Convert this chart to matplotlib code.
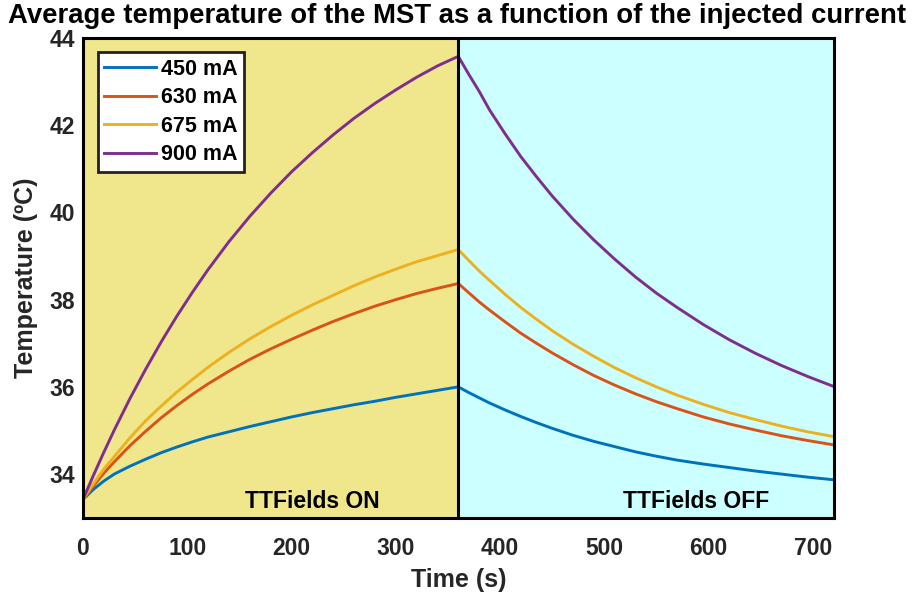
import matplotlib
matplotlib.use('Agg')
import matplotlib.pyplot as plt

plt.rcParams['font.family'] = ['Liberation Sans', 'DejaVu Sans']
plt.rcParams['font.weight'] = 'bold'

# tiempos (s): calentamiento (ON) y enfriamiento (OFF)
time = [0, 10, 20, 30, 45, 60, 75, 90, 105, 120, 140, 160, 180, 200, 220, 240, 260, 280, 300, 320, 340, 360,
        370, 380, 390, 405, 420, 435, 450, 470, 490, 510, 530, 550, 570, 595, 620, 645, 670, 695, 720]

# temperaturas medias (ºC)
t_450 = [33.42, 33.65, 33.84, 34.00, 34.18, 34.34, 34.49, 34.62, 34.74, 34.85, 34.97, 35.09, 35.20, 35.31,
         35.41, 35.50, 35.59, 35.67, 35.76, 35.84, 35.92, 36.00,
         35.87, 35.75, 35.63, 35.47, 35.32, 35.18, 35.05, 34.89, 34.75, 34.63, 34.51, 34.41, 34.32,
         34.23, 34.15, 34.07, 34.00, 33.93, 33.87]
t_630 = [33.42, 33.73, 34.02, 34.28, 34.65, 34.98, 35.29, 35.57, 35.83, 36.07, 36.36, 36.63, 36.87, 37.09,
         37.30, 37.50, 37.68, 37.85, 38.00, 38.14, 38.26, 38.37,
         38.16, 37.95, 37.76, 37.49, 37.23, 37.00, 36.78, 36.51, 36.26, 36.04, 35.84, 35.66, 35.50,
         35.31, 35.15, 35.01, 34.88, 34.77, 34.67]
t_675 = [33.42, 33.78, 34.11, 34.40, 34.83, 35.22, 35.56, 35.88, 36.17, 36.45, 36.79, 37.10, 37.38, 37.64,
         37.88, 38.10, 38.32, 38.52, 38.70, 38.87, 39.01, 39.15,
         38.90, 38.66, 38.44, 38.12, 37.82, 37.55, 37.29, 36.98, 36.70, 36.44, 36.21, 36.00, 35.81,
         35.60, 35.41, 35.25, 35.10, 34.97, 34.86]
t_900 = [33.42, 33.97, 34.50, 35.01, 35.73, 36.40, 37.03, 37.62, 38.17, 38.69, 39.33, 39.91, 40.44, 40.93,
         41.37, 41.78, 42.16, 42.50, 42.81, 43.10, 43.36, 43.58,
         43.17, 42.78, 42.35, 41.80, 41.28, 40.82, 40.38, 39.85, 39.37, 38.93, 38.52, 38.15, 37.82,
         37.43, 37.08, 36.77, 36.49, 36.24, 36.01]

labels = ['450 mA', '630 mA', '675 mA', '900 mA']
colors = ['#0072BD', '#D95319', '#EDB120', '#7E2F8E']
t_on = 360
t_end = 720

fig = plt.figure(figsize=(9.14, 5.96), dpi=100)
ax = fig.add_axes([0.0908, 0.1314, 0.8212, 0.8048])

# zonas ON / OFF
ax.axvspan(0, t_on, color='#F0E68C', zorder=0)
ax.axvspan(t_on, t_end, color='#CCFFFF', zorder=0)

for serie, lab, col in zip([t_450, t_630, t_675, t_900], labels, colors):
    ax.plot(time, serie, color=col, linewidth=2.1, label=lab, zorder=3)

ax.axvline(t_on, color='black', linewidth=2.2, zorder=4)

ax.set_xlim(0, t_end)
ax.set_ylim(33, 44)
ax.set_xticks([0, 100, 200, 300, 400, 500, 600, 700])
ax.set_yticks([34, 36, 38, 40, 42, 44])
ax.tick_params(length=0, labelsize=16.5, colors='#262626', pad=6)
ax.tick_params(axis='x', pad=14)
for s in ax.spines.values():
    s.set_linewidth(2.2)
    s.set_color('black')
    s.set_zorder(5)

ax.text(220, 33.37, 'TTFields ON', fontsize=16.5, fontweight='bold', ha='center', va='center')
ax.text(588, 33.37, 'TTFields OFF', fontsize=16.5, fontweight='bold', ha='center', va='center')

ax.set_xlabel('Time (s)', fontsize=18, fontweight='bold', color='#262626', labelpad=6)
ax.set_ylabel('Temperature (ºC)', fontsize=18, fontweight='bold', color='#262626', labelpad=8)
fig.suptitle('Average temperature of the MST as a function of the injected current',
             fontsize=19.8, fontweight='bold', x=0.5, y=0.995, va='top')

leg = ax.legend(loc='upper left', fontsize=15.5, handlelength=2.4, handletextpad=0.25,
                borderpad=0.3, labelspacing=0.35, fancybox=False, framealpha=1,
                bbox_to_anchor=(0.005, 0.993))
leg.get_frame().set_edgecolor('#222222')
leg.get_frame().set_linewidth(2.0)

plt.savefig('out.png', dpi=100)
